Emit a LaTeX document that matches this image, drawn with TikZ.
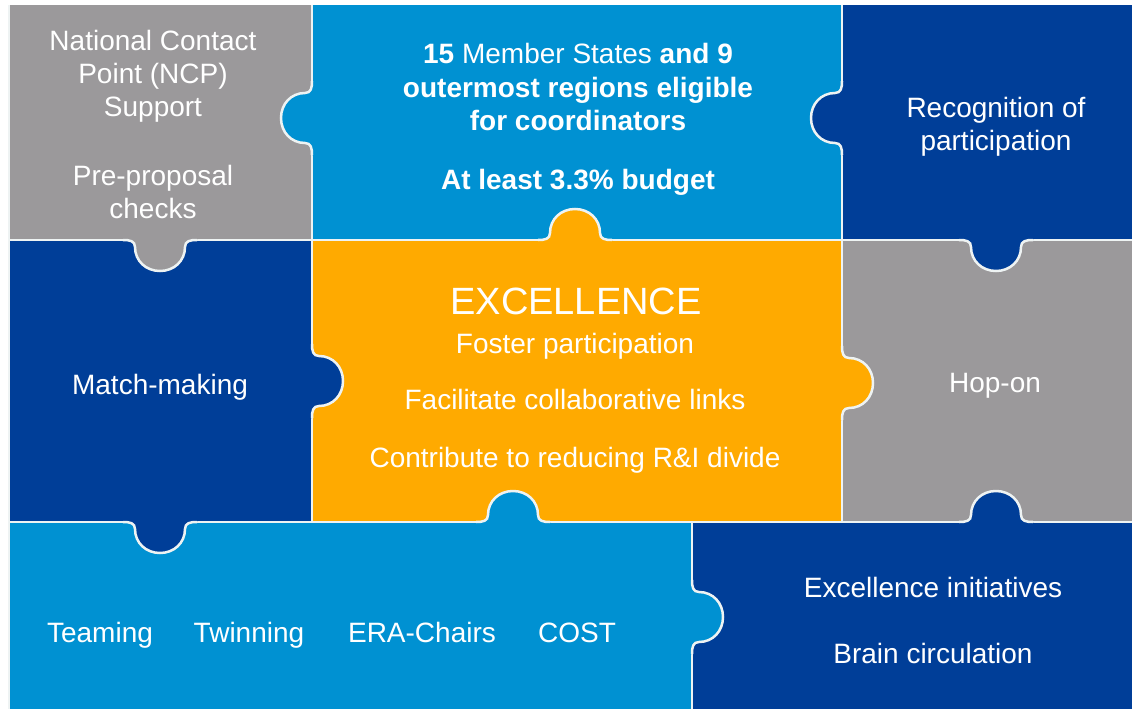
\documentclass[tikz,border=0pt]{standalone}
\usepackage{fontspec}
\setmainfont{Liberation Sans}
\definecolor{ncpgray}{HTML}{9B999B}
\definecolor{ltblue}{HTML}{0091D2}
\definecolor{dkblue}{HTML}{003E98}
\definecolor{gold}{HTML}{FFAA00}
\definecolor{seamwhite}{HTML}{EEF3F3}
\tikzset{
    seam/.style={draw=seamwhite, line width=2.5pt},
    piecetext/.style={text=white, align=center, inner sep=0pt, font=\fontsize{28}{33}\selectfont},
    boldtext/.style={piecetext, font=\fontsize{28}{33.5}\selectfont\bfseries},
    pics/knob/.style={code={
        \fill[#1] (-37,-3) -- (-37,0) .. controls (-30,0) and (-25,1) .. (-25,7)
            .. controls (-25,21) and (-14,31) .. (0,31)
            .. controls (14,31) and (25,21) .. (25,7)
            .. controls (25,1) and (30,0) .. (37,0) -- (37,-3) -- cycle;
        \draw[seam] (-37,0) .. controls (-30,0) and (-25,1) .. (-25,7)
            .. controls (-25,21) and (-14,31) .. (0,31)
            .. controls (14,31) and (25,21) .. (25,7)
            .. controls (25,1) and (30,0) .. (37,0);
    }}
}
\begin{document}
\begin{tikzpicture}[x=1pt, y=-1pt]
    \useasboundingbox (0,0) rectangle (1132,709);
    % pieces
    \fill[ncpgray] (9,5) rectangle (312,240);
    \fill[ltblue] (312,5) rectangle (842,240);
    \fill[dkblue] (842,5) rectangle (1132,240);
    \fill[dkblue] (9,240) rectangle (312,522);
    \fill[gold] (312,240) rectangle (842,522);
    \fill[ncpgray] (842,240) rectangle (1132,522);
    \fill[ltblue] (9,522) rectangle (692,709);
    \fill[dkblue] (692,522) rectangle (1132,709);
    % seams
    \draw[seam] (312,5) -- (312,522);
    \draw[seam] (842,5) -- (842,522);
    \draw[seam] (9,240) -- (1132,240);
    \draw[seam] (9,522) -- (1132,522);
    \draw[seam] (692,522) -- (692,709);
    \draw[seam] (9,5) -- (9,709);
    % knobs
    \foreach \px/\py/\rot/\col in {312/118/-90/ltblue, 842/118/-90/dkblue,
        575/240/180/gold, 160/240/0/ncpgray, 996/240/0/dkblue,
        312/381/90/dkblue, 160/522/0/dkblue, 842/383/90/gold,
        513/522/180/ltblue, 996/522/180/dkblue, 692/617/90/ltblue}
        \pic[rotate=\rot] at (\px,\py) {knob=\col};
    % texts
    \node[piecetext] (ncp) at (153,76.5) {National Contact\\Point (NCP)\\Support};
    \node[piecetext] (checks) at (153,192) {Pre-proposal\\checks};
    \node[boldtext] (states) at (578,87)
        {15 \mdseries Member States \bfseries and 9\\outermost regions eligible\\for coordinators};
    \node[boldtext, anchor=base] (budget) at (578,189) {At least 3.3\% budget};
    \node[piecetext] (recog) at (996,127) {Recognition of\\participation};
    \node[piecetext, anchor=base, font=\fontsize{38}{44}\selectfont] (excel) at (576,314) {EXCELLENCE};
    \node[piecetext, anchor=base] (foster) at (575,353) {Foster participation};
    \node[piecetext, anchor=base] (links) at (575,409) {Facilitate collaborative links};
    \node[piecetext, anchor=base] (divide) at (575,467) {Contribute to reducing R\&I divide};
    \node[piecetext, anchor=base] (match) at (160,394) {Match-making};
    \node[piecetext, anchor=base] (hop) at (995,392) {Hop-on};
    \node[piecetext, anchor=base] (teaming) at (100,642) {Teaming};
    \node[piecetext, anchor=base] (twinning) at (249,642) {Twinning};
    \node[piecetext, anchor=base] (era) at (422,642) {ERA-Chairs};
    \node[piecetext, anchor=base] (cost) at (577,642) {COST};
    \node[piecetext, anchor=base] (initiatives) at (933,597) {Excellence initiatives};
    \node[piecetext, anchor=base] (brain) at (933,663) {Brain circulation};
\end{tikzpicture}
\end{document}
